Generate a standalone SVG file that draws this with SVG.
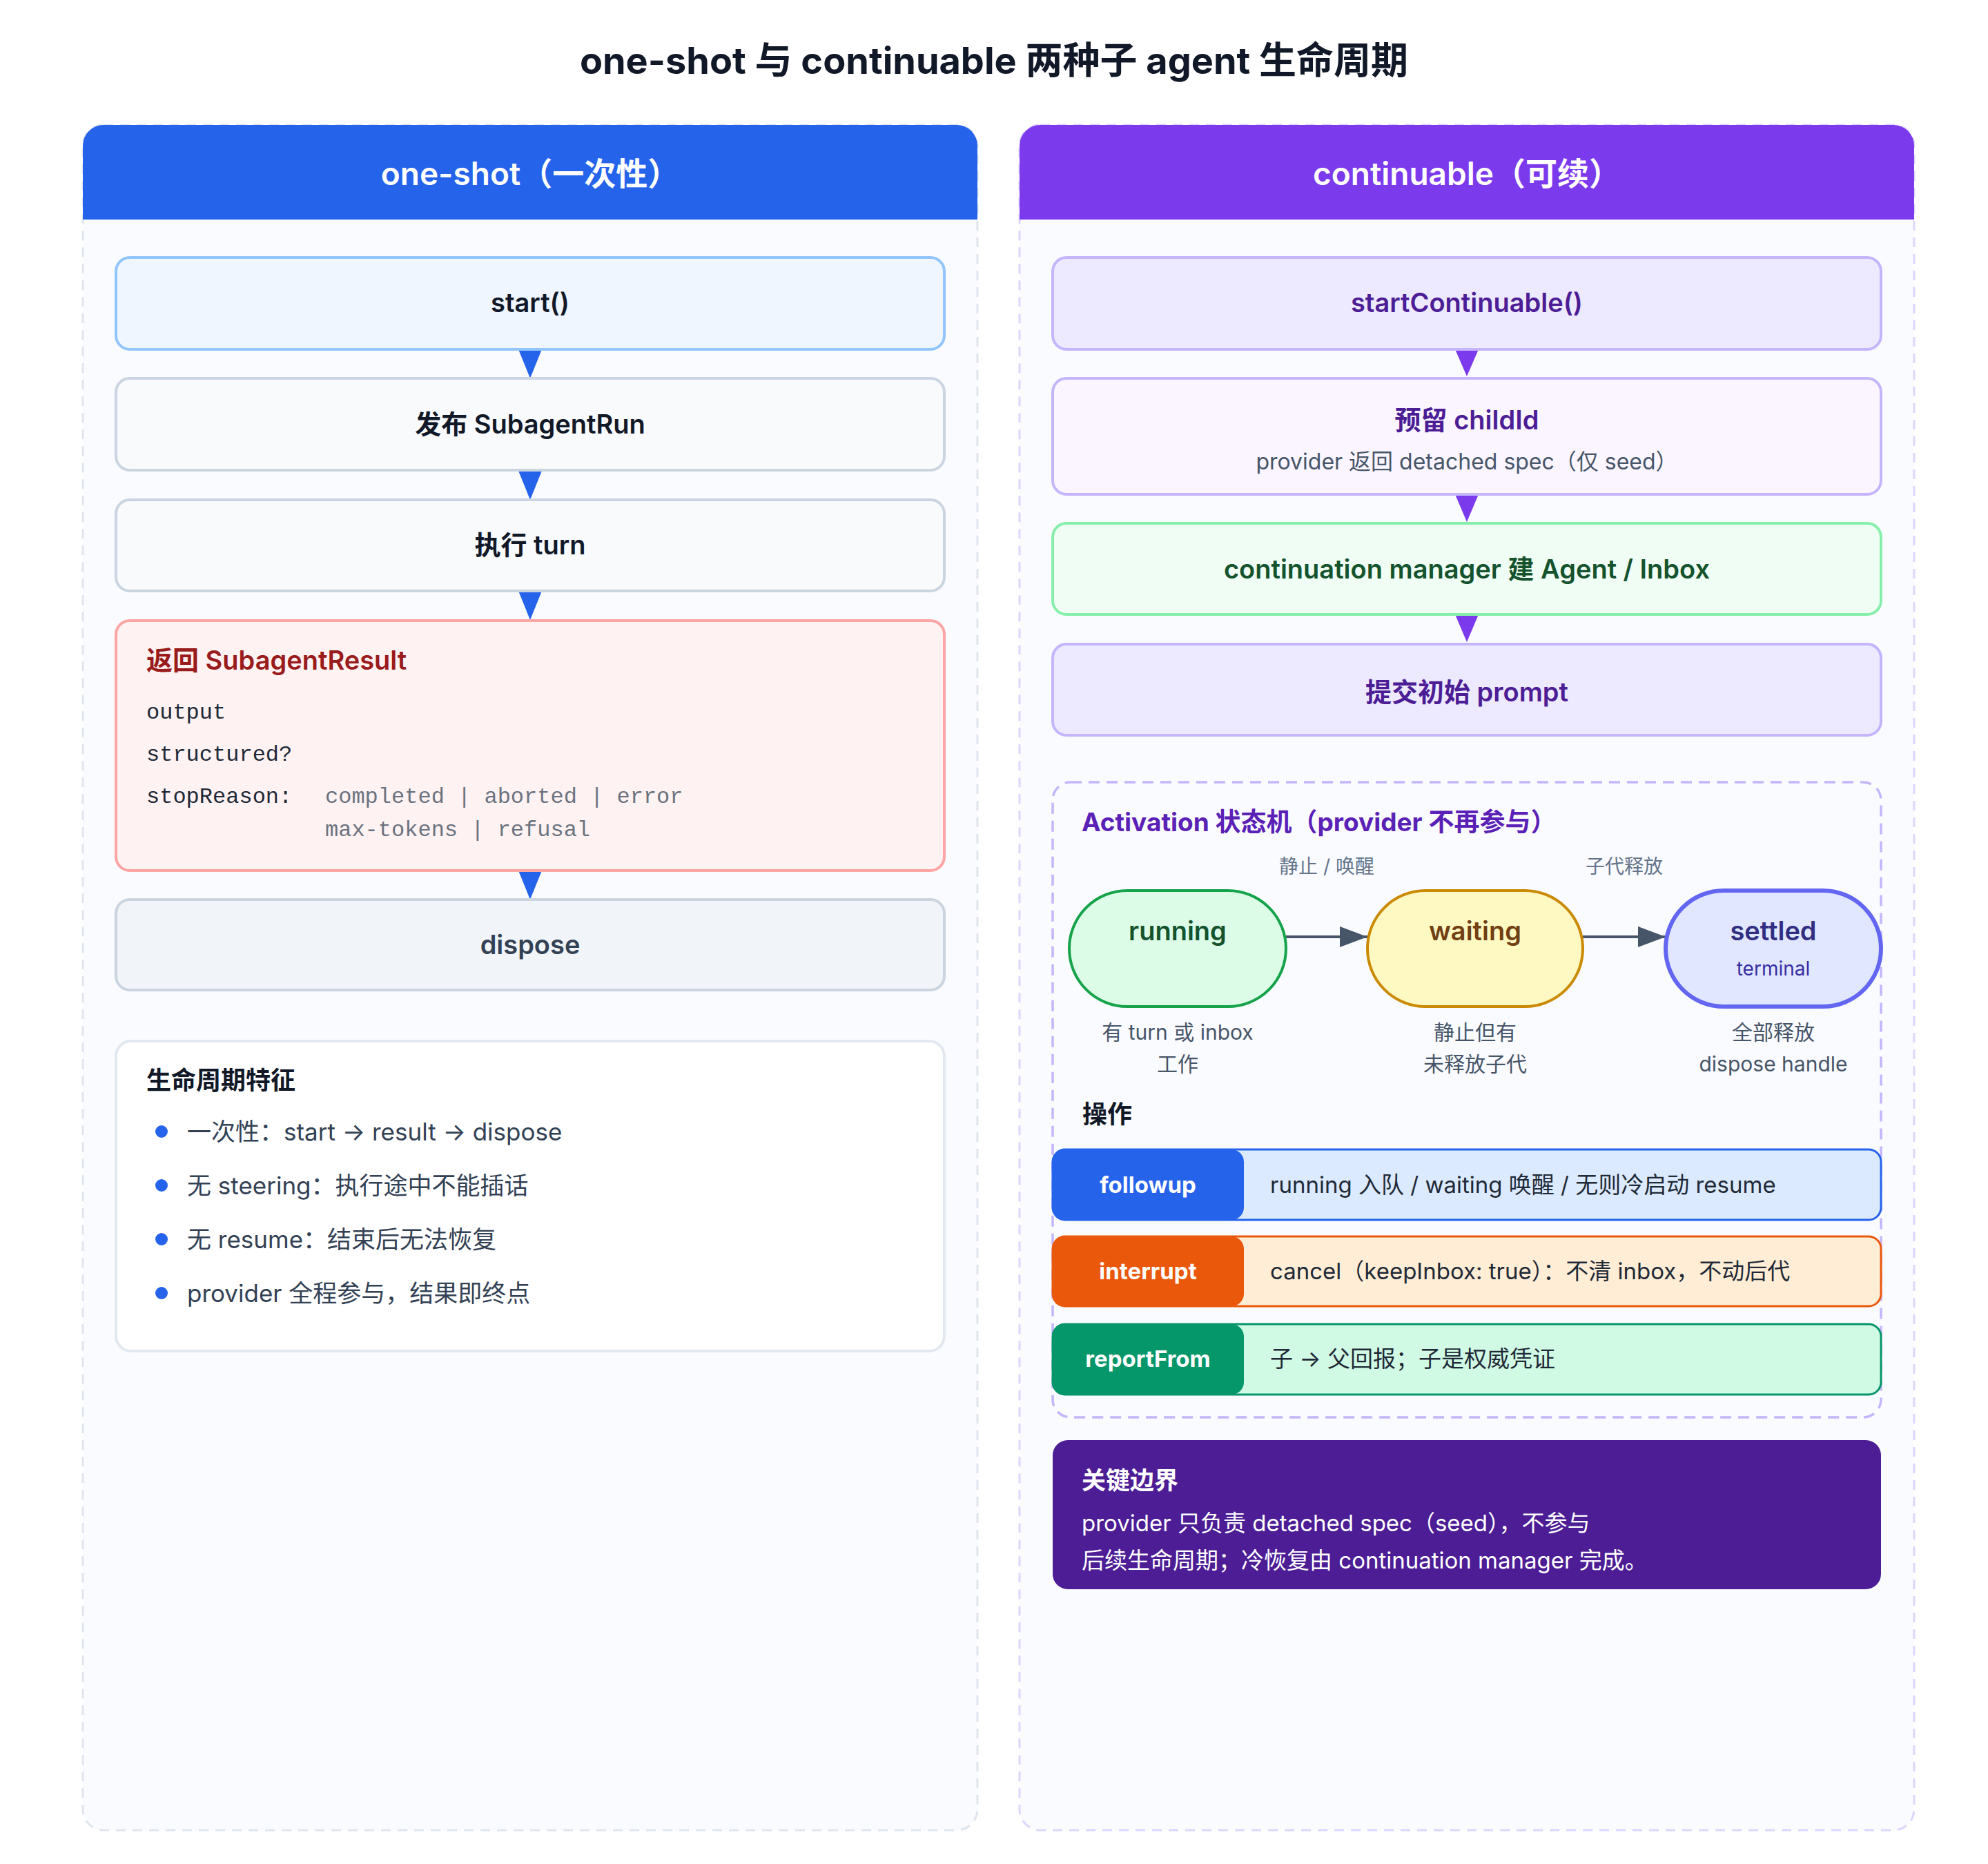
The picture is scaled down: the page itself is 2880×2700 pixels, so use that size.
<svg xmlns="http://www.w3.org/2000/svg" width="2880" height="2700" viewBox="0 0 2880 2700">
<style>
text{font-family:Inter,"Noto Sans CJK SC",sans-serif}
.t{font-size:38px;font-weight:600;text-anchor:middle}
.mono{font-family:"Liberation Mono","Noto Sans CJK SC",monospace;font-size:32px}
.li{font-size:35px;fill:#334155}
.sm{font-size:30px;fill:#475569;text-anchor:middle}
.op{font-size:33px;font-weight:700;fill:#fff;text-anchor:middle}
.od{font-size:33px;fill:#1f2937}
</style>
<defs>
<marker id="ah" viewBox="0 0 10 10" refX="10" refY="5" markerWidth="11" markerHeight="11" markerUnits="userSpaceOnUse" orient="auto"><path d="M0,0L10,5L0,10z" fill="#475569"/></marker>
<marker id="ah2" viewBox="0 0 10 10" refX="10" refY="5" markerWidth="40" markerHeight="30" markerUnits="userSpaceOnUse" orient="auto" preserveAspectRatio="none"><path d="M0,0L10,5L0,10z" fill="#475569"/></marker>
</defs>
<rect width="2880" height="2700" fill="#fff"/>
<text x="1440" y="107" font-size="54" font-weight="700" text-anchor="middle" fill="#111827">one-shot 与 continuable 两种子 agent 生命周期</text>

<g id="panel-left">
<rect x="120" y="181" width="1296" height="2470" rx="30" fill="#fafbfe" stroke="#dfe5ee" stroke-width="3" stroke-dasharray="14 10"/>
<path d="M120,318V211a30,30 0 0 1 30-30H1386a30,30 0 0 1 30,30V318z" fill="#2563eb"/>
<text x="768" y="268" font-size="46" font-weight="600" fill="#fff" text-anchor="middle">one-shot（一次性）</text>
</g>
<g id="panel-right">
<rect x="1477" y="181" width="1296" height="2470" rx="30" fill="#fafbfe" stroke="#ddd6fe" stroke-width="3" stroke-dasharray="14 10"/>
<path d="M1477,318V211a30,30 0 0 1 30-30H2743a30,30 0 0 1 30,30V318z" fill="#7c3aed"/>
<text x="2125" y="268" font-size="46" font-weight="600" fill="#fff" text-anchor="middle">continuable（可续）</text>
</g>

<g id="connectors">
<path d="M751,506h34l-17,42z" fill="#2563eb"/>
<path d="M751,682h34l-17,42z" fill="#2563eb"/>
<path d="M751,856h34l-17,42z" fill="#2563eb"/>
<path d="M751,1261h34l-17,42z" fill="#2563eb"/>
<path d="M2108,506h34l-17,39z" fill="#7c3aed"/>
<path d="M2108,716h34l-17,40z" fill="#7c3aed"/>
<path d="M2108,890h34l-17,40z" fill="#7c3aed"/>
<line x1="1863" y1="1357" x2="1981" y2="1357" stroke="#475569" stroke-width="4" marker-start="url(#ah2)" marker-end="url(#ah2)"/>
<line x1="2293" y1="1357" x2="2413" y2="1357" stroke="#475569" stroke-width="4" marker-end="url(#ah2)"/>
</g>

<g id="start"><rect x="168" y="373" width="1200" height="133" rx="20" fill="#eff6ff" stroke="#93c5fd" stroke-width="4"/><text class="t" x="768" y="452" fill="#111827">start()</text></g>
<g id="publish"><rect x="168" y="548" width="1200" height="133" rx="20" fill="#f8fafc" stroke="#cbd5e1" stroke-width="4"/><text class="t" x="768" y="628" fill="#111827">发布 SubagentRun</text></g>
<g id="turn"><rect x="168" y="724" width="1200" height="132" rx="20" fill="#f8fafc" stroke="#cbd5e1" stroke-width="4"/><text class="t" x="768" y="803" fill="#111827">执行 turn</text></g>
<g id="result">
<rect x="168" y="899" width="1200" height="362" rx="20" fill="#fef2f2" stroke="#fca5a5" stroke-width="4"/>
<text x="212" y="970" font-size="38" font-weight="600" fill="#991b1b">返回 SubagentResult</text>
<text class="mono" x="212" y="1041" fill="#1f2937">output</text>
<text class="mono" x="212" y="1102" fill="#1f2937">structured?</text>
<text class="mono" x="212" y="1163" fill="#1f2937">stopReason:</text>
<text class="mono" x="471" y="1163" fill="#6b7280">completed | aborted | error</text>
<text class="mono" x="471" y="1211" fill="#6b7280">max-tokens | refusal</text>
</g>
<g id="dispose"><rect x="168" y="1303" width="1200" height="131" rx="20" fill="#f1f5f9" stroke="#cbd5e1" stroke-width="4"/><text class="t" x="768" y="1382" fill="#334155">dispose</text></g>
<g id="traits">
<rect x="168" y="1508" width="1200" height="449" rx="22" fill="#fff" stroke="#e2e8f0" stroke-width="4"/>
<text x="212" y="1578" font-size="36" font-weight="700" fill="#111827">生命周期特征</text>
<g fill="#2563eb"><circle cx="234" cy="1639" r="9"/><circle cx="234" cy="1717" r="9"/><circle cx="234" cy="1795" r="9"/><circle cx="234" cy="1873" r="9"/></g>
<text class="li" x="271" y="1652">一次性：start → result → dispose</text>
<text class="li" x="271" y="1730">无 steering：执行途中不能插话</text>
<text class="li" x="271" y="1808">无 resume：结束后无法恢复</text>
<text class="li" x="271" y="1886">provider 全程参与，结果即终点</text>
</g>

<g id="startContinuable"><rect x="1525" y="373" width="1200" height="133" rx="20" fill="#ede9fe" stroke="#c4b5fd" stroke-width="4"/><text class="t" x="2125" y="452" fill="#4c1d95">startContinuable()</text></g>
<g id="childId"><rect x="1525" y="548" width="1200" height="168" rx="20" fill="#faf5ff" stroke="#c4b5fd" stroke-width="4"/><text class="t" x="2125" y="622" fill="#4c1d95">预留 childId</text><text x="2125" y="680" font-size="32" fill="#475569" text-anchor="middle">provider 返回 detached spec（仅 seed）</text></g>
<g id="manager"><rect x="1525" y="758" width="1200" height="132" rx="20" fill="#f0fdf4" stroke="#86efac" stroke-width="4"/><text class="t" x="2125" y="838" fill="#14532d">continuation manager 建 Agent / Inbox</text></g>
<g id="prompt"><rect x="1525" y="933" width="1200" height="132" rx="20" fill="#ede9fe" stroke="#c4b5fd" stroke-width="4"/><text class="t" x="2125" y="1016" fill="#4c1d95">提交初始 prompt</text></g>

<g id="activation">
<rect x="1525" y="1133" width="1200" height="920" rx="26" fill="none" stroke="#c4b5fd" stroke-width="3.5" stroke-dasharray="16 10"/>
<text x="1567" y="1204" font-size="37" font-weight="700" fill="#5b21b6">Activation 状态机（provider 不再参与）</text>
<text x="1922" y="1265" font-size="28" fill="#64748b" text-anchor="middle">静止 / 唤醒</text>
<text x="2353" y="1265" font-size="28" fill="#64748b" text-anchor="middle">子代释放</text>
</g>
<g id="running"><rect x="1549" y="1290" width="314" height="168" rx="84" fill="#dcfce7" stroke="#16a34a" stroke-width="4"/><text class="t" x="1706" y="1362" fill="#14532d">running</text>
<text class="sm" x="1706" y="1506">有 turn 或 inbox</text><text class="sm" x="1706" y="1552">工作</text></g>
<g id="waiting"><rect x="1981" y="1290" width="312" height="168" rx="84" fill="#fef9c3" stroke="#ca8a04" stroke-width="4"/><text class="t" x="2137" y="1362" fill="#713f12">waiting</text>
<text class="sm" x="2137" y="1506">静止但有</text><text class="sm" x="2137" y="1552">未释放子代</text></g>
<g id="settled"><rect x="2413" y="1290" width="312" height="168" rx="84" fill="#e0e7ff" stroke="#6366f1" stroke-width="6"/><text class="t" x="2569" y="1362" fill="#312e81">settled</text><text x="2569" y="1413" font-size="28" fill="#3730a3" text-anchor="middle">terminal</text>
<text class="sm" x="2569" y="1506">全部释放</text><text class="sm" x="2569" y="1552">dispose handle</text></g>
<text x="1568" y="1627" font-size="36" font-weight="700" fill="#111827">操作</text>
<g id="followup"><rect x="1525" y="1665" width="1200" height="102" rx="18" fill="#dbeafe" stroke="#2563eb" stroke-width="3"/><rect x="1525" y="1665" width="277" height="102" rx="18" fill="#2563eb"/><text class="op" x="1663" y="1728">followup</text><text class="od" x="1840" y="1728">running 入队 / waiting 唤醒 / 无则冷启动 resume</text></g>
<g id="interrupt"><rect x="1525" y="1791" width="1200" height="101" rx="18" fill="#ffedd5" stroke="#ea580c" stroke-width="3"/><rect x="1525" y="1791" width="277" height="101" rx="18" fill="#ea580c"/><text class="op" x="1663" y="1853">interrupt</text><text class="od" x="1840" y="1853">cancel（keepInbox: true）：不清 inbox，不动后代</text></g>
<g id="reportFrom"><rect x="1525" y="1918" width="1200" height="102" rx="18" fill="#d1fae5" stroke="#059669" stroke-width="3"/><rect x="1525" y="1918" width="277" height="102" rx="18" fill="#059669"/><text class="op" x="1663" y="1980">reportFrom</text><text class="od" x="1840" y="1980">子 → 父回报；子是权威凭证</text></g>

<g id="boundary"><rect x="1525" y="2086" width="1200" height="216" rx="22" fill="#4c1d95"/>
<text x="1567" y="2157" font-size="35" font-weight="700" fill="#fff">关键边界</text>
<text x="1567" y="2218" font-size="33" fill="#fff">provider 只负责 detached spec（seed），不参与</text>
<text x="1567" y="2272" font-size="33" fill="#fff">后续生命周期；冷恢复由 continuation manager 完成。</text></g>
</svg>
